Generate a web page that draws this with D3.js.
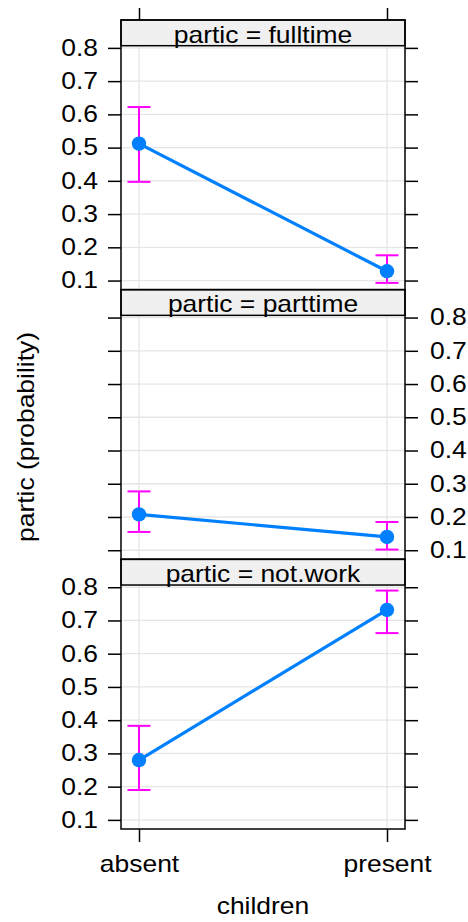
<!DOCTYPE html>
<html>
<head>
<meta charset="utf-8">
<script src="https://cdn.jsdelivr.net/npm/d3@7"></script>
<style>
  html, body { margin: 0; padding: 0; background: #fff; }
  svg text { font-family: "Liberation Sans", Arial, Helvetica, sans-serif; fill: #000; }
</style>
</head>
<body>
<svg id="chart" width="468" height="922"></svg>
<script>
// ---- data ----
const categories = ["absent", "present"];
const panelNames = ["fulltime", "parttime", "not.work"];
const fitFulltime   = [0.512, 0.128];
const lowerFulltime = [0.397, 0.093];
const upperFulltime = [0.622, 0.176];
const fitParttime   = [0.208, 0.140];
const lowerParttime = [0.155, 0.102];
const upperParttime = [0.277, 0.185];
const fitNotwork    = [0.280, 0.732];
const lowerNotwork  = [0.190, 0.662];
const upperNotwork  = [0.383, 0.790];
const yTicks = [0.1, 0.2, 0.3, 0.4, 0.5, 0.6, 0.7, 0.8];
const yLabelSide = ["left", "right", "left"];
const xTitle = "children";
const yTitle = "partic (probability)";

const panelData = [
  { name: panelNames[0], fit: fitFulltime, lower: lowerFulltime, upper: upperFulltime },
  { name: panelNames[1], fit: fitParttime, lower: lowerParttime, upper: upperParttime },
  { name: panelNames[2], fit: fitNotwork,  lower: lowerNotwork,  upper: upperNotwork }
];

// ---- layout ----
const svg = d3.select("#chart");
const plotLeft = 121, plotRight = 405, plotTop = 20, plotBottom = 829;
const panelTotal = (plotBottom - plotTop) / panelData.length;
const stripH = 25.7;
const tickLen = 13;
const fontSize = 23;
const SX = 1.15; // horizontal glyph stretch

const x = d3.scalePoint().domain(categories).range([139, 387]);

function stretch(sel) {
  sel.each(function () {
    const t = d3.select(this);
    const ax = +t.attr("x") || 0;
    t.attr("transform", `translate(${ax * (1 - SX)},0) scale(${SX},1)`);
  });
}

panelData.forEach((p, i) => {
  const pTop = plotTop + i * panelTotal;
  const dTop = pTop + stripH;
  const dBot = pTop + panelTotal;
  const y = d3.scaleLinear().domain([0.0726, 0.8066]).range([dBot, dTop]);

  const g = svg.append("g");

  // grid
  g.selectAll("line.hgrid").data(yTicks).join("line").attr("class", "hgrid")
    .attr("x1", plotLeft).attr("x2", plotRight)
    .attr("y1", d => y(d)).attr("y2", d => y(d))
    .attr("stroke", "#e6e6e6").attr("stroke-width", 1.3);
  g.selectAll("line.vgrid").data(categories).join("line").attr("class", "vgrid")
    .attr("x1", d => x(d)).attr("x2", d => x(d))
    .attr("y1", dTop).attr("y2", dBot)
    .attr("stroke", "#e6e6e6").attr("stroke-width", 1.3);

  // y axes
  const leftAxis = d3.axisLeft(y).tickValues(yTicks).tickSize(tickLen).tickPadding(10)
    .tickFormat(yLabelSide[i] === "left" ? d3.format(".1f") : () => "");
  const rightAxis = d3.axisRight(y).tickValues(yTicks).tickSize(tickLen).tickPadding(12)
    .tickFormat(yLabelSide[i] === "right" ? d3.format(".1f") : () => "");
  [[leftAxis, plotLeft], [rightAxis, plotRight]].forEach(([ax, xp]) => {
    const a = g.append("g").attr("transform", `translate(${xp},0)`).call(ax);
    a.select(".domain").remove();
    a.selectAll(".tick line").attr("stroke", "#000").attr("stroke-width", 1.5);
    a.attr("font-size", fontSize).attr("font-family", null);
    a.selectAll(".tick text")
      .style("font-family", '"Liberation Sans", Arial, sans-serif')
      .attr("fill", "#000")
      .call(stretch);
  });

  // error bars
  const capHalf = 11.5;
  categories.forEach((c, k) => {
    const cx = x(c);
    g.append("line").attr("x1", cx).attr("x2", cx)
      .attr("y1", y(p.lower[k])).attr("y2", y(p.upper[k]))
      .attr("stroke", "#ff00ff").attr("stroke-width", 2);
    [p.lower[k], p.upper[k]].forEach(v => {
      g.append("line").attr("x1", cx - capHalf).attr("x2", cx + capHalf)
        .attr("y1", y(v)).attr("y2", y(v))
        .attr("stroke", "#ff00ff").attr("stroke-width", 2);
    });
  });

  // line + points
  const line = d3.line().x((d, k) => x(categories[k])).y(d => y(d));
  g.append("path").datum(p.fit).attr("d", line)
    .attr("fill", "none").attr("stroke", "#0080ff").attr("stroke-width", 3.2);
  g.selectAll("circle").data(p.fit).join("circle")
    .attr("cx", (d, k) => x(categories[k])).attr("cy", d => y(d))
    .attr("r", 7.2).attr("fill", "#0080ff");

  // strip
  g.append("rect").attr("x", plotLeft).attr("y", pTop).attr("width", plotRight - plotLeft).attr("height", stripH)
    .attr("fill", "#f0f0f0").attr("stroke", "#000").attr("stroke-width", 1.5);
  g.append("text").attr("x", (plotLeft + plotRight) / 2).attr("y", pTop + stripH - 3)
    .attr("text-anchor", "middle").attr("font-size", fontSize)
    .text(`partic = ${p.name}`)
    .call(stretch);

  // panel border
  g.append("rect").attr("x", plotLeft).attr("y", pTop).attr("width", plotRight - plotLeft).attr("height", panelTotal)
    .attr("fill", "none").attr("stroke", "#000").attr("stroke-width", 1.5);

  // top x ticks
  if (i === 0) {
    const ta = g.append("g").attr("transform", `translate(0,${pTop})`)
      .call(d3.axisTop(x).tickSize(12).tickFormat(() => ""));
    ta.select(".domain").remove();
    ta.selectAll(".tick line").attr("stroke", "#000").attr("stroke-width", 1.5);
  }
  // bottom x axis
  if (i === panelData.length - 1) {
    const ba = g.append("g").attr("transform", `translate(0,${dBot})`)
      .call(d3.axisBottom(x).tickSize(13).tickPadding(14));
    ba.select(".domain").remove();
    ba.selectAll(".tick line").attr("stroke", "#000").attr("stroke-width", 1.5);
    ba.attr("font-size", fontSize).attr("font-family", null);
    ba.selectAll(".tick text")
      .style("font-family", '"Liberation Sans", Arial, sans-serif')
      .attr("fill", "#000")
      .call(stretch);
  }
});

// axis titles
svg.append("text").attr("x", 263).attr("y", 914)
  .attr("text-anchor", "middle").attr("font-size", fontSize)
  .text(xTitle)
  .call(stretch);
svg.append("g")
  .attr("transform", "translate(34,437) rotate(-90)")
  .append("text")
  .attr("x", 0).attr("y", 0)
  .attr("text-anchor", "middle").attr("font-size", fontSize)
  .text(yTitle)
  .call(stretch);
</script>
</body>
</html>
